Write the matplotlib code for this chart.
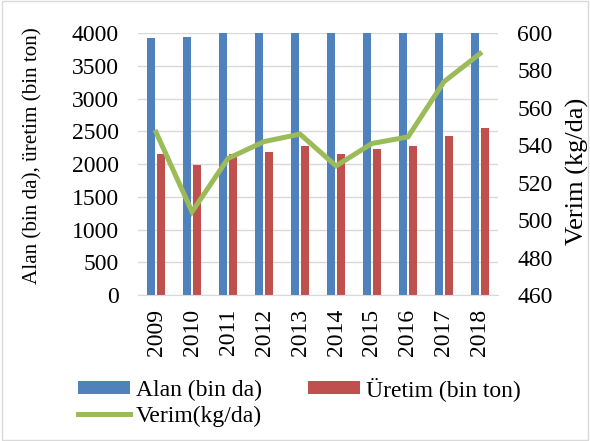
import matplotlib
matplotlib.use("Agg")
import matplotlib.pyplot as plt
import numpy as np
from matplotlib.patches import Rectangle

years = ["2009", "2010", "2011", "2012", "2013", "2014", "2015", "2016", "2017", "2018"]
alan = [3930, 3945, 4060, 4070, 4080, 4090, 4080, 4100, 4110, 4120]  # clipped above 4000
uretim = [2153, 1990, 2153, 2183, 2280, 2153, 2229, 2280, 2427, 2550]
verim = [547, 504.5, 533, 542, 546, 529, 541, 544.5, 574, 589]

BLUE = "#4F81BD"
RED = "#C0504D"
GREEN = "#9BBB59"
GRID = "#D9D9D9"

plt.rcParams["font.family"] = ["Liberation Serif", "DejaVu Serif"]

fig = plt.figure(figsize=(5.9, 4.41), dpi=100)
fig.patches.append(Rectangle((0.003, 0.003), 0.994, 0.994, transform=fig.transFigure,
                             fill=False, edgecolor="#D9D9D9", linewidth=1))

ax = fig.add_axes([0.234, 0.331, 0.610, 0.594])
x = np.arange(len(years))
w = 0.215
b1 = ax.bar(x - 0.14, alan, w, color=BLUE, label="Alan (bin da)", zorder=2)
b2 = ax.bar(x + 0.14, uretim, w, color=RED, label="Üretim (bin ton)", zorder=2)

ax.set_ylim(0, 4000)
ax.set_xlim(-0.5, len(years) - 0.5)
ax.set_yticks(np.arange(0, 4001, 500))
ax.yaxis.grid(True, color=GRID, linewidth=1, zorder=0)
ax.set_axisbelow(True)
for s in ["top", "left", "right"]:
    ax.spines[s].set_visible(False)
ax.spines["bottom"].set_color(GRID)
ax.set_xticks(x)
ax.set_xticklabels(years, rotation=90, fontsize=17)
ax.tick_params(axis="y", length=0, labelsize=17, pad=14)
ax.tick_params(axis="x", length=0, labelsize=17, pad=10)

ax2 = ax.twinx()
ln, = ax2.plot(x, verim, color=GREEN, linewidth=3.6, label="Verim(kg/da)",
               solid_joinstyle="miter", zorder=3)
ax2.set_ylim(460, 600)
ax2.set_yticks(np.arange(460, 601, 20))
for s in ["top", "left", "right", "bottom"]:
    ax2.spines[s].set_visible(False)
ax2.tick_params(axis="y", length=0, labelsize=17, pad=14)

# axis titles
fig.text(33 / 590, 1 - 156 / 441, "Alan (bin da), üretim (bin ton)", rotation=90,
         ha="center", va="center", fontsize=15.2)
fig.text(577 / 590, 1 - 171 / 441, "Verim (kg/da)", rotation=90,
         ha="center", va="center", fontsize=19)

fig.legend([b1, ln, b2], ["Alan (bin da)", "Verim(kg/da)", "Üretim (bin ton)"],
           ncol=2, loc="upper left", bbox_to_anchor=(66 / 590, 1 - 365 / 441),
           frameon=False, borderpad=0, fontsize=17, handlelength=2.2,
           handleheight=0.5, columnspacing=1.95, labelspacing=0.2,
           handletextpad=0.25)

fig.savefig("out.png", dpi=100)
